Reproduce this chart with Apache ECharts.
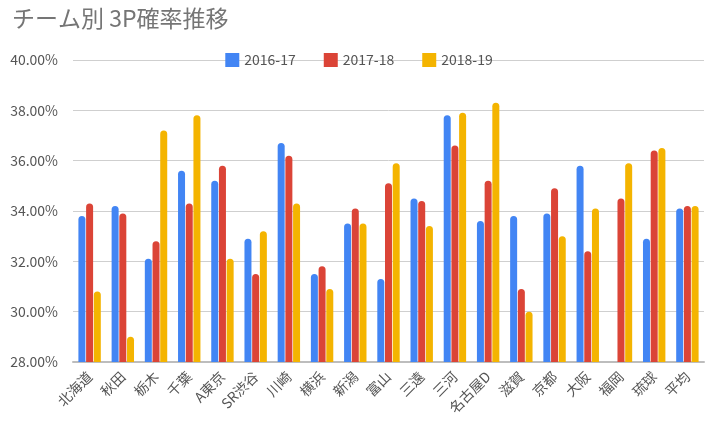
<!DOCTYPE html>
<html>
<head>
<meta charset="utf-8">
<script src="https://cdn.jsdelivr.net/npm/echarts@6/dist/echarts.min.js"></script>
<style>
  html, body { margin: 0; padding: 0; background: #fff; }
  #chart { width: 718px; height: 428px; }
</style>
</head>
<body>
<div id="chart"></div>
<script>
const teams = ["北海道", "秋田", "栃木", "千葉", "A東京", "SR渋谷", "川崎", "横浜", "新潟", "富山",
               "三遠", "三河", "名古屋D", "滋賀", "京都", "大阪", "福岡", "琉球", "平均"];
const s2016 = [33.8, 34.2, 32.1, 35.6, 35.2, 32.9, 36.7, 31.5, 33.5, 31.3,
               34.5, 37.8, 33.6, 33.8, 33.9, 35.8, null, 32.9, 34.1];
const s2017 = [34.3, 33.9, 32.8, 34.3, 35.8, 31.5, 36.2, 31.8, 34.1, 35.1,
               34.4, 36.6, 35.2, 30.9, 34.9, 32.4, 34.5, 36.4, 34.2];
const s2018 = [30.8, 29.0, 37.2, 37.8, 32.1, 33.2, 34.3, 30.9, 33.5, 35.9,
               33.4, 37.9, 38.3, 30.0, 33.0, 34.1, 35.9, 36.5, 34.2];
const seriesNames = ["2016-17", "2017-18", "2018-19"];
const colors = ["#4285F4", "#DB4437", "#F4B400"];

const font = "'Noto Sans CJK JP', 'Noto Sans', sans-serif";
const chart = echarts.init(document.getElementById('chart'));

function makeSeries(name, data, color) {
    return {
        name: name,
        type: 'bar',
        data: data,
        barWidth: 7,
        barGap: '10%',
        itemStyle: { color: color, borderRadius: [4, 4, 0, 0] }
    };
}

chart.setOption({
    animation: false,
    color: colors,
    title: {
        text: 'チーム別 3P確率推移',
        left: 7,
        top: 2,
        textStyle: { fontFamily: font, fontSize: 23, fontWeight: 'normal', color: '#757575' }
    },
    legend: {
        data: seriesNames,
        top: 48,
        left: 'center',
        itemWidth: 14,
        itemHeight: 14,
        itemGap: 28,
        icon: 'rect',
        textStyle: { fontFamily: font, fontSize: 14, color: '#555' }
    },
    grid: { left: 73, right: 14, top: 60, bottom: 66 },
    xAxis: {
        type: 'category',
        data: teams,
        axisTick: { show: false },
        axisLine: { lineStyle: { color: '#bdbdbd', width: 2 } },
        axisLabel: {
            rotate: 45,
            interval: 0,
            fontFamily: font,
            fontSize: 14,
            color: '#555',
            margin: 12
        }
    },
    yAxis: {
        type: 'value',
        min: 28,
        max: 40,
        interval: 2,
        axisLine: { show: false },
        axisTick: { show: false },
        splitLine: { lineStyle: { color: '#cfcfcf', width: 1 } },
        axisLabel: {
            fontFamily: font,
            fontSize: 14,
            color: '#555',
            margin: 15,
            formatter: v => v.toFixed(2) + '%'
        }
    },
    series: [
        makeSeries(seriesNames[0], s2016, colors[0]),
        makeSeries(seriesNames[1], s2017, colors[1]),
        makeSeries(seriesNames[2], s2018, colors[2])
    ]
});
</script>
</body>
</html>
